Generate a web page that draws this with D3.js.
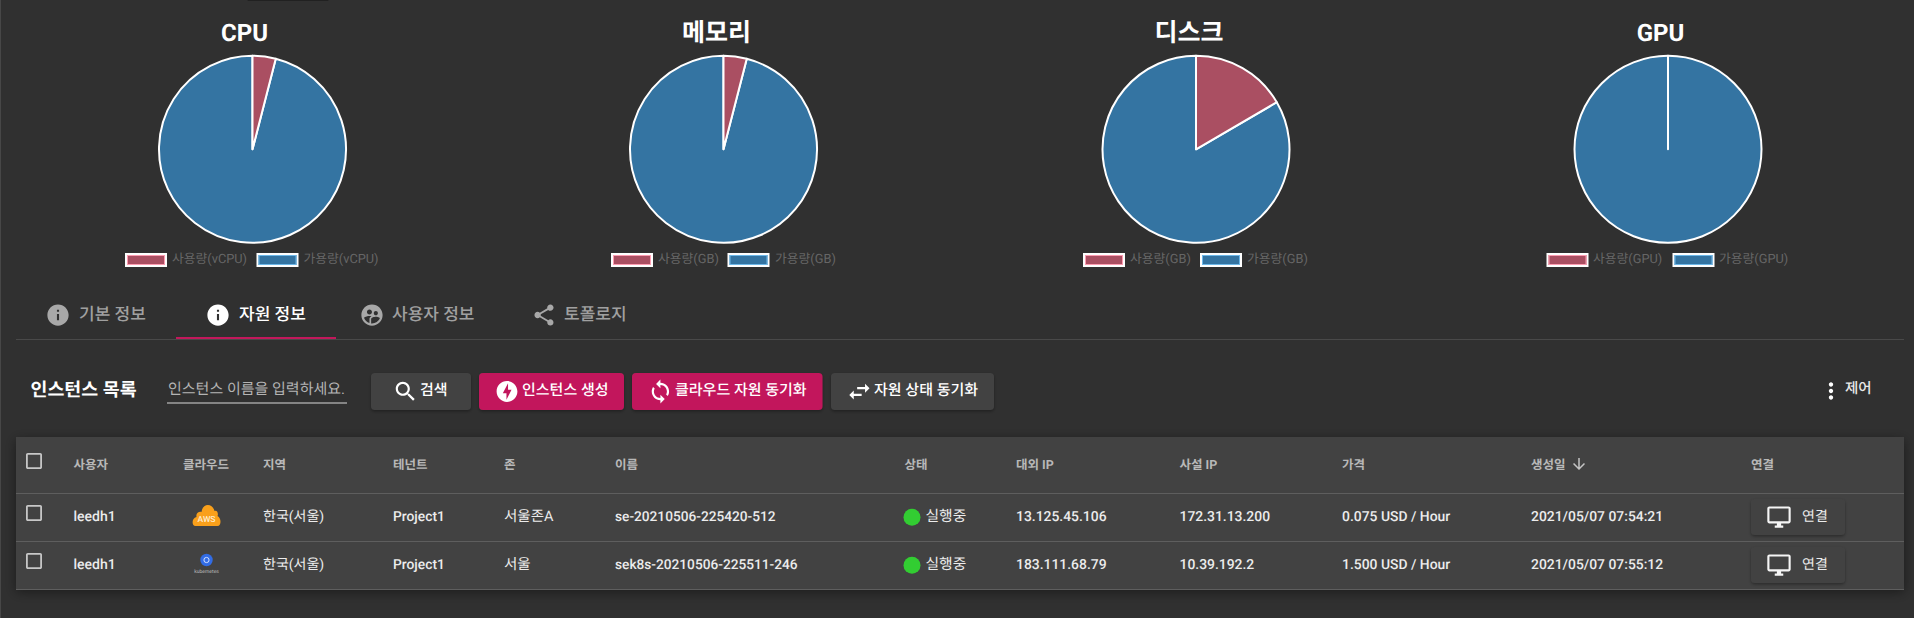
<!DOCTYPE html>
<html lang="ko"><head><meta charset="utf-8">
<script src="https://cdn.jsdelivr.net/npm/d3@7"></script>
<style>
html,body{margin:0;padding:0;background:#303030;overflow:hidden}
svg{display:block}
text{font-family:Roboto,"Noto Sans CJK KR",sans-serif;text-rendering:geometricPrecision}
</style></head><body><svg id="c" width="1914" height="618"></svg>
<script>
// ---- data ----
const chartTitles = ["CPU","메모리","디스크","GPU"];
const usedValues = [4,4,16.6,0];
const availableValues = [96,96,83.4,100];
const usedLabels = ["사용량(vCPU)","사용량(GB)","사용량(GB)","사용량(GPU)"];
const availLabels = ["가용량(vCPU)","가용량(GB)","가용량(GB)","가용량(GPU)"];
const tabLabels = ["기본 정보","자원 정보","사용자 정보","토폴로지"];
const columnLabels = ["사용자","클라우드","지역","테넌트","존","이름","상태","대외 IP","사설 IP","가격","생성일","연결"];
const users = ["leedh1","leedh1"];
const regions = ["한국(서울)","한국(서울)"];
const tenants = ["Project1","Project1"];
const zones = ["서울존A","서울"];
const names = ["se-20210506-225420-512","sek8s-20210506-225511-246"];
const states = ["실행중","실행중"];
const publicIps = ["13.125.45.106","183.111.68.79"];
const privateIps = ["172.31.13.200","10.39.192.2"];
const prices = ["0.075 USD / Hour","1.500 USD / Hour"];
const createdAt = ["2021/05/07 07:54:21","2021/05/07 07:55:12"];
const buttonLabels = ["검색","인스턴스 생성","클라우드 자원 동기화","자원 상태 동기화"];

// ---- layout ----
const pieCx=[252.5,723.5,1196,1668], titleCx=[244.5,716.5,1189,1660.5], titleSize=[24,25,25,24], pieCy=149.3, pieR=93.5;
const leg=[[125,172,256.5,303.5],[611,658,727.5,775],[1083,1130,1200,1247],[1546.5,1593,1672.5,1719]];
const colX=[73.5,183,263,393,504,615,904.5,1016,1179.5,1342,1531,1751];
const rowY=[516,564];
const P={info:"M12 2C6.48 2 2 6.48 2 12s4.48 10 10 10 10-4.48 10-10S17.52 2 12 2zm1 15h-2v-6h2v6zm0-8h-2V7h2v2z",
share:"M18 16.08c-.76 0-1.44.3-1.96.77L8.91 12.7c.05-.23.09-.46.09-.7s-.04-.47-.09-.7l7.05-4.11c.54.5 1.25.81 2.04.81 1.66 0 3-1.34 3-3s-1.34-3-3-3-3 1.34-3 3c0 .24.04.47.09.7L8.04 9.81C7.5 9.31 6.79 9 6 9c-1.66 0-3 1.34-3 3s1.34 3 3 3c.79 0 1.5-.31 2.04-.81l7.12 4.16c-.05.21-.08.43-.08.65 0 1.61 1.31 2.92 2.92 2.92 1.61 0 2.92-1.31 2.92-2.92s-1.31-2.92-2.92-2.92z",
search:"M15.5 14h-.79l-.28-.27C15.41 12.59 16 11.11 16 9.5 16 5.91 13.09 3 9.5 3S3 5.91 3 9.5 5.91 16 9.5 16c1.61 0 3.09-.59 4.23-1.57l.27.28v.79l5 4.99L20.49 19l-4.99-5zm-6 0C7.01 14 5 11.99 5 9.5S7.01 5 9.5 5 14 7.01 14 9.5 11.99 14 9.5 14z",
sync:"M12 4V1L8 5l4 4V6c3.31 0 6 2.69 6 6 0 1.01-.25 1.97-.7 2.8l1.46 1.46C19.54 15.03 20 13.57 20 12c0-4.42-3.58-8-8-8zm0 14c-3.31 0-6-2.69-6-6 0-1.01.25-1.97.7-2.8L5.24 7.74C4.46 8.97 4 10.43 4 12c0 4.42 3.58 8 8 8v3l4-4-4-4v3z",
swap:"M6.99 11L3 15l3.99 4v-3H14v-2H6.99v-3zM21 9l-3.99-4v3H10v2h7.01v3L21 9z",
bolt:"M12 2.02c-5.51 0-9.98 4.47-9.98 9.98s4.47 9.98 9.98 9.98 9.98-4.47 9.98-9.98S17.51 2.02 12 2.02zM11.48 20v-6.26H8L13 4v6.26h3.35L11.48 20z",
more:"M12 8c1.1 0 2-.9 2-2s-.9-2-2-2-2 .9-2 2 .9 2 2 2zm0 2c-1.1 0-2 .9-2 2s.9 2 2 2 2-.9 2-2-.9-2-2-2zm0 6c-1.1 0-2 .9-2 2s.9 2 2 2 2-.9 2-2-.9-2-2-2z",
desk:"M21 2H3c-1.1 0-2 .9-2 2v12c0 1.1.9 2 2 2h7v2H8v2h8v-2h-2v-2h7c1.1 0 2-.9 2-2V4c0-1.1-.9-2-2-2zm0 14H3V4h18v12z",
down:"M20 12l-1.41-1.41L13 16.17V4h-2v12.17l-5.58-5.59L4 12l8 8 8-8z",
check:"M19 5v14H5V5h14m0-2H5c-1.1 0-2 .9-2 2v14c0 1.1.9 2 2 2h14c1.1 0 2-.9 2-2V5c0-1.1-.9-2-2-2z",
user:"M11.99 2c-5.52 0-10 4.48-10 10s4.48 10 10 10 10-4.48 10-10-4.48-10-10-10zm3.61 6.34c1.07 0 1.93.86 1.93 1.93 0 1.07-.86 1.93-1.93 1.93-1.07 0-1.93-.86-1.93-1.93-.01-1.07.86-1.93 1.93-1.93zm-6-1.58c1.3 0 2.36 1.06 2.36 2.36 0 1.3-1.06 2.36-2.36 2.36s-2.36-1.06-2.36-2.36c0-1.31 1.05-2.36 2.36-2.36zm0 9.13v3.75c-2.4-.75-4.3-2.6-5.14-4.96 1.05-1.12 3.67-1.69 5.14-1.69.53 0 1.2.08 1.9.22-1.64.87-1.9 2.02-1.9 2.68zM11.99 20c-.27 0-.53-.01-.79-.04v-4.07c0-1.42 2.94-2.13 4.4-2.13 1.07 0 2.92.39 3.84 1.15-1.17 2.97-4.06 5.09-7.45 5.09z"};

const svg=d3.select("#c");
const defs=svg.append("defs");
function shadow(id,dy,std,op){defs.append("filter").attr("id",id).attr("x","-10%").attr("y","-30%").attr("width","120%").attr("height","170%")
  .append("feDropShadow").attr("dx",0).attr("dy",dy).attr("stdDeviation",std).attr("flood-color","#000").attr("flood-opacity",op);}
shadow("btn",1.5,1.5,.35); shadow("tbl",3,6,.45);
svg.append("rect").attr("width",1914).attr("height",618).attr("fill","#303030");
svg.append("rect").attr("width",1).attr("height",618).attr("fill","#474747");
svg.append("rect").attr("x",247).attr("y",-4).attr("width",82).attr("height",5).attr("rx",2).attr("fill","#212121");

function txt(g,x,y,s,size,fill,weight,anchor){return g.append("text").attr("x",x).attr("y",y).attr("dy","0.36em").attr("font-size",size).attr("fill",fill).attr("font-weight",weight||400).attr("text-anchor",anchor||"start").text(s);}
function icon(g,name,cx,cy,size,fill){return g.append("path").attr("d",P[name]).attr("fill",fill).attr("transform",`translate(${cx-size/2},${cy-size/2}) scale(${size/24})`);}

// ---- pies ----
const color=d3.scaleOrdinal().domain(["used","avail"]).range(["#aa4f62","#3474a2"]);
const edge=d3.scaleOrdinal().domain(["used","avail"]).range(["#ff9db2","#6db8ea"]);
const pie=d3.pie().sort(null).value(d=>d.v);
const arc=d3.arc().innerRadius(0).outerRadius(pieR);
chartTitles.forEach((t,i)=>{
  const data=[{k:"used",v:usedValues[i]},{k:"avail",v:availableValues[i]}];
  txt(svg,titleCx[i],32,t,titleSize[i],"#fff",700,"middle");
  svg.append("g").attr("transform",`translate(${pieCx[i]},${pieCy})`).selectAll("path").data(pie(data).reverse()).join("path")
    .attr("d",arc).attr("fill",d=>color(d.data.k)).attr("stroke","#fff").attr("stroke-width",2).attr("stroke-linejoin","round");
  [["used",usedLabels[i],leg[i][0],leg[i][1]],["avail",availLabels[i],leg[i][2],leg[i][3]]].forEach(([k,l,x,tx])=>{
    svg.append("rect").attr("x",x+1).attr("y",254).attr("width",40).attr("height",12).attr("fill",color(k)).attr("stroke","#fff").attr("stroke-width",2);
    svg.append("rect").attr("x",x+2.5).attr("y",255.5).attr("width",37).attr("height",9).attr("fill","none").attr("stroke",edge(k)).attr("stroke-width",1);
    txt(svg,tx,258.5,l,12.8,"#666");
  });
});

// ---- tabs ----
const tabIcons=["info","info","user","share"], tabIconX=[58,218,372,544], tabTextX=[79,239,392,564];
svg.append("rect").attr("x",16).attr("y",339).attr("width",1888).attr("height",1).attr("fill","#494949");
svg.append("rect").attr("x",176).attr("y",337).attr("width",160).attr("height",2).attr("fill","#c2185b");
tabLabels.forEach((t,i)=>{const c=i==1?"#fff":"#a8a8a8";
  icon(svg,tabIcons[i],tabIconX[i],315,25.5,c); txt(svg,tabTextX[i],314,t,17,i==1?"#fff":"#a0a0a0",500);});

// ---- toolbar ----
txt(svg,30.5,389,"인스턴스 목록",18.4,"#fff",700);
txt(svg,168,389,"인스턴스 이름을 입력하세요.",15,"#b4b4b4");
svg.append("rect").attr("x",167).attr("y",402.5).attr("width",180).attr("height",1).attr("fill","#d8d8d8");
const btn=[[371,100,"#424242","search",405.5,420],[479,145,"#c2185b","bolt",507,522],[632,190.5,"#c2185b","sync",660.4,675],[831,163,"#424242","swap",859.4,874]];
const iconSize=[26,25,26,27];
buttonLabels.forEach((l,i)=>{const b=btn[i];
  svg.append("rect").attr("x",b[0]).attr("y",373).attr("width",b[1]).attr("height",37).attr("rx",4).attr("fill",b[2]).attr("filter","url(#btn)");
  icon(svg,b[3],b[4],391.5,iconSize[i],"#fff"); txt(svg,b[5],389.5,l,15,"#fff",500);});
icon(svg,"more",1831,391,26,"#fff");
txt(svg,1845,388,"제어",14.5,"#e8e8e8",500);

// ---- table ----
svg.append("rect").attr("x",16).attr("y",437).attr("width",1888).attr("height",152).attr("fill","#424242").attr("filter","url(#tbl)");
svg.selectAll("line.r").data([493,541,589]).join("line").attr("class","r").attr("x1",16).attr("x2",1904).attr("y1",d=>d+.5).attr("y2",d=>d+.5).attr("stroke","#5e5e5e");
icon(svg,"check",34,461,21.3,"#c8c8c8");
columnLabels.forEach((l,i)=>txt(svg,colX[i],464,l,12.5,"#b8b8b8",700));
icon(svg,"down",1579,464,18,"#c4c4c4");
rowY.forEach((y,r)=>{
  icon(svg,"check",34,y-3,21.3,"#c8c8c8");
  const W="#ececec";
  txt(svg,colX[0],y,users[r],14,W,500);
  txt(svg,colX[2],y,regions[r],14,W,400);
  txt(svg,colX[3],y,tenants[r],13.8,W,500);
  txt(svg,colX[4],y,zones[r],14.5,W,400);
  txt(svg,colX[5],y,names[r],13.7,W,500);
  svg.append("circle").attr("cx",912).attr("cy",y+1.3).attr("r",8.5).attr("fill","#32cd32");
  txt(svg,925.5,y,states[r],14.8,W,400);
  txt(svg,colX[7],y,publicIps[r],13.9,W,500);
  txt(svg,colX[8],y,privateIps[r],13.9,W,500);
  txt(svg,colX[9],y,prices[r],13.9,W,500);
  txt(svg,colX[10],y,createdAt[r],13.9,W,500);
  svg.append("rect").attr("x",1751).attr("y",y-17).attr("width",94).attr("height",36).attr("rx",4).attr("fill","#424242").attr("filter","url(#btn)");
  icon(svg,"desk",1779,y+1,25.5,"#f5f5f5");
  txt(svg,1802,y-.5,"연결",14,W,400);
});
// AWS cloud badge
const aws=svg.append("g").attr("transform","translate(206.5,515)");
aws.append("path").attr("d","M-11,11 C-15,11 -15,3 -10,2 C-11,-2 -7,-4 -5,-3 C-4,-12 6,-12 8,-4 C11,-5 12,-1 11,1 C15,3 15,11 11,11 Z").attr("fill","#f9a01b");
aws.append("text").attr("x",0).attr("y",6.5).attr("text-anchor","middle").attr("font-size",8.5).attr("font-weight",500).attr("fill","#ffeccd").text("AWS");
// Kubernetes badge
const k8=svg.append("g").attr("transform","translate(206.5,560)");
k8.append("circle").attr("r",6.2).attr("fill","#326ce5");
k8.append("circle").attr("r",2.6).attr("fill","none").attr("stroke","#d5e2ff").attr("stroke-width",1);
k8.append("text").attr("x",0).attr("y",12.5).attr("text-anchor","middle").attr("font-size",5).attr("fill","#bdbdbd").text("kubernetes");
</script></body></html>
